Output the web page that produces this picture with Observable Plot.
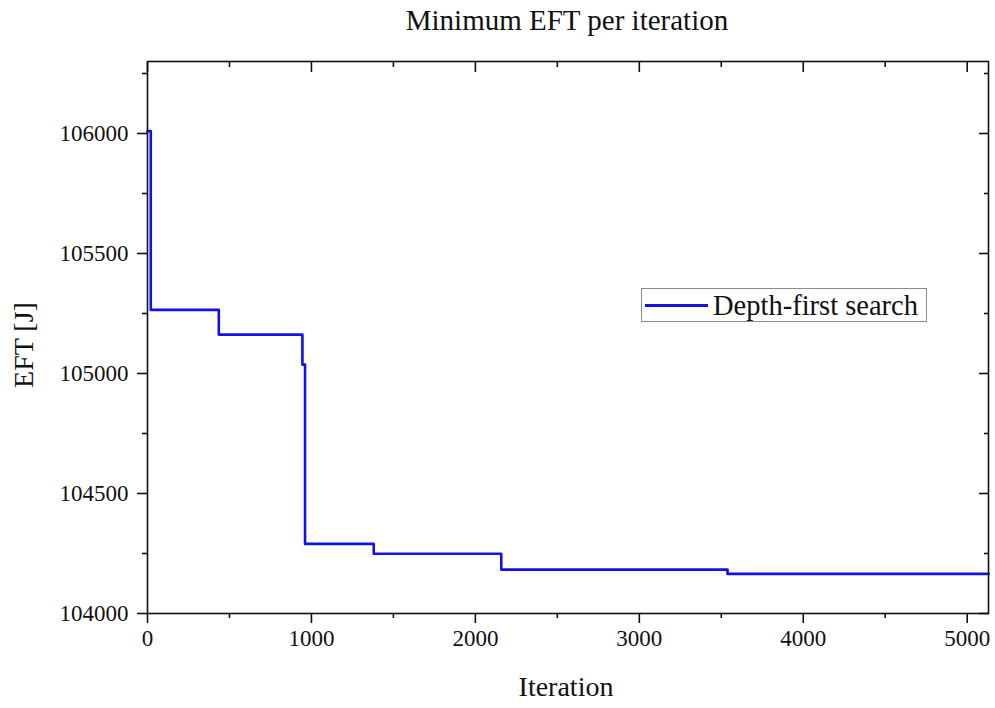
<!DOCTYPE html>
<html>
<head>
<meta charset="utf-8">
<script src="https://cdn.jsdelivr.net/npm/d3@7"></script>
<script src="https://cdn.jsdelivr.net/npm/@observablehq/plot@0.6"></script>
<style>
  html, body { margin: 0; padding: 0; background: #fff; }
  #wrap { position: relative; width: 995px; height: 708px; font-family: 'Liberation Serif', 'Times New Roman', serif; color: #111; }
  #chart { position: absolute; left: 0; top: 0; }
  .lbl { position: absolute; text-align: center; white-space: nowrap; line-height: 1; }
  #title { left: 0; width: 1134px; top: 6px; font-size: 29px; }
  #xlabel { left: 416px; width: 300px; top: 673px; font-size: 28px; }
  #ylabel { left: -76px; width: 200px; height: 28px; top: 331px; font-size: 28px; transform: rotate(-90deg); transform-origin: 100px 14px; }
  #legend { position: absolute; left: 641px; top: 288px; width: 286px; height: 34px; box-sizing: border-box; border: 1px solid #8c8c8c; background: #fff; }
  #legend .swatch { position: absolute; left: 3px; top: 15px; width: 63px; height: 3px; background: #1212e6; }
  #legend .txt { position: absolute; left: 71px; top: 3px; font-size: 28.5px; line-height: 1; white-space: nowrap; }
</style>
</head>
<body>
<div id="wrap">
  <div id="chart"></div>
  <div id="title" class="lbl">Minimum EFT per iteration</div>
  <div id="xlabel" class="lbl">Iteration</div>
  <div id="ylabel" class="lbl">EFT [J]</div>
  <div id="legend"><div class="swatch"></div><div class="txt">Depth-first search</div></div>
</div>
<script>
// Data (step changes of the minimum EFT)
const iterations = [0, 20, 435, 945, 961, 1380, 2158, 3538, 5130];
const eft = [106010, 105265, 105162, 105037, 104290, 104249, 104183, 104165, 104165];

const xMajor = [0, 1000, 2000, 3000, 4000, 5000];
const xMinor = [500, 1500, 2500, 3500, 4500];
const yMajor = [104000, 104500, 105000, 105500, 106000];
const yMinor = [104250, 104750, 105250, 105750, 106250];

const data = iterations.map((x, i) => ({x, y: eft[i]}));
const blank = () => "";
const tw = 1.6;

const chart = Plot.plot({
  width: 995,
  height: 708,
  marginLeft: 147,
  marginRight: 7,
  marginTop: 61,
  marginBottom: 95,
  x: {domain: [0, 5130]},
  y: {domain: [104000, 106300]},
  style: {fontFamily: "'Liberation Serif', 'Times New Roman', serif", fontSize: "23px", color: "#111", background: "transparent"},
  marks: [
    Plot.line(data, {x: "x", y: "y", curve: "step-after", stroke: "#1212e6", strokeWidth: 2.6}),
    Plot.frame({stroke: "#111", strokeWidth: tw}),
    // bottom axis
    Plot.axisX(xMajor, {anchor: "bottom", tickSize: 10, tickPadding: 6, tickFormat: "d", label: null, strokeWidth: tw, fontSize: 23}),
    Plot.axisX(xMinor, {anchor: "bottom", tickSize: 5, tickFormat: blank, label: null, strokeWidth: tw}),
    // top axis (inward ticks)
    Plot.axisX(xMajor, {anchor: "top", tickSize: -10, tickFormat: blank, label: null, strokeWidth: tw}),
    Plot.axisX(xMinor, {anchor: "top", tickSize: -5, tickFormat: blank, label: null, strokeWidth: tw}),
    // left axis
    Plot.axisY(yMajor, {anchor: "left", tickSize: 10, tickPadding: 9, tickFormat: "d", label: null, strokeWidth: tw, fontSize: 23}),
    Plot.axisY(yMinor, {anchor: "left", tickSize: 5, tickFormat: blank, label: null, strokeWidth: tw}),
    // right axis (inward ticks)
    Plot.axisY(yMajor, {anchor: "right", tickSize: -10, tickFormat: blank, label: null, strokeWidth: tw}),
    Plot.axisY(yMinor, {anchor: "right", tickSize: -5, tickFormat: blank, label: null, strokeWidth: tw})
  ]
});
document.getElementById("chart").appendChild(chart);
</script>
</body>
</html>
